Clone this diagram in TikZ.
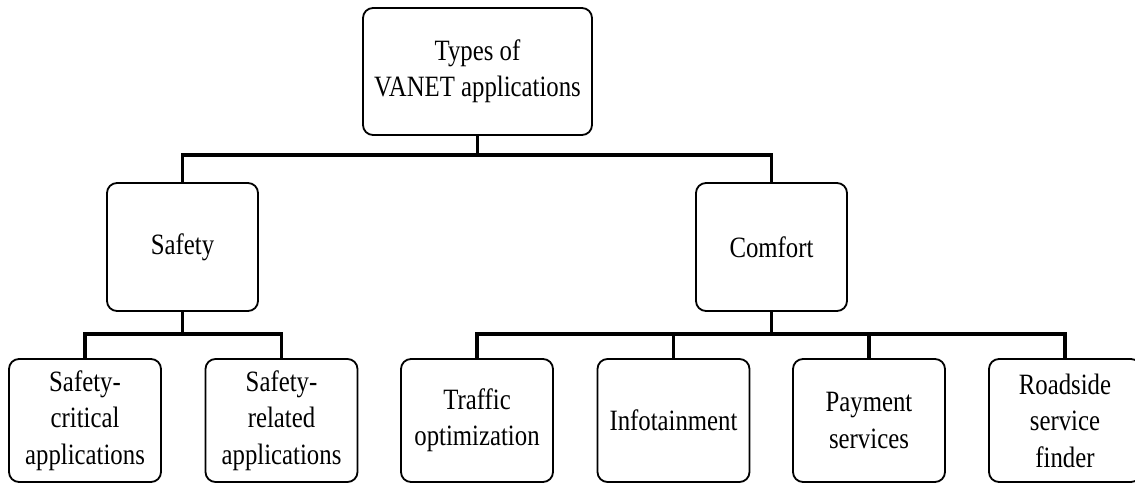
\documentclass[tikz,border=0pt]{standalone}
\usepackage{fontspec}
\setmainfont{Liberation Serif}[FakeStretch=0.84]
\usepackage{tikz}

\begin{document}
\begin{tikzpicture}[x=1pt,y=-1pt,
  box/.style={draw,line width=1.8pt,rounded corners=10pt,align=center,inner sep=0pt,
    font=\fontsize{29.5}{36.5}\selectfont},
  leaf/.style={box,minimum width=152pt,minimum height=123pt},
  link/.style={line width=3.5pt}]
\useasboundingbox (0,0) rectangle (1135,484);
% root
\node[box,minimum width=229pt,minimum height=127pt] (types) at (477.5,71.5) {Types of\\VANET applications};
% second level
\node[box,minimum width=151pt,minimum height=128pt] (safety) at (182.5,247) {Safety};
\node[box,minimum width=151pt,minimum height=128pt] (comfort) at (771.5,247) {Comfort};
% leaves
\node[leaf] (crit) at (85,420.5) {Safety-\\critical\\applications};
\node[leaf] (rel) at (281.5,420.5) {Safety-\\related\\applications};
\node[leaf] (traffic) at (477,420.5) {Traffic\\optimization};
\node[leaf] (info) at (673.5,420.5) {Infotainment};
\node[leaf] (pay) at (869,420.5) {Payment\\services};
\node[leaf] (road) at (1065,420.5) {Roadside\\service\\finder};
% connectors
\coordinate (top) at (477.5,155);
\draw[link] (types.south) -- (top);
\draw[link] (safety.north) -- (safety.north |- top) -- (comfort.north |- top) -- (comfort.north);
\coordinate (sbar) at (182.5,334);
\draw[link] (safety.south) -- (sbar);
\draw[link] (crit.north) -- (crit.north |- sbar) -- (rel.north |- sbar) -- (rel.north);
\coordinate (cbar) at (771.5,334);
\draw[link] (comfort.south) -- (cbar);
\draw[link] (traffic.north) -- (traffic.north |- cbar) -- (road.north |- cbar) -- (road.north);
\draw[link] (info.north) -- (info.north |- cbar);
\draw[link] (pay.north) -- (pay.north |- cbar);
\end{tikzpicture}
\end{document}
